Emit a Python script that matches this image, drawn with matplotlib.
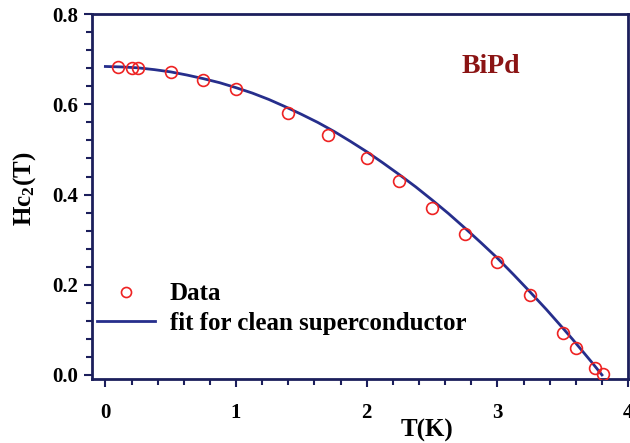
import matplotlib
matplotlib.use("Agg")
import matplotlib.pyplot as plt
from matplotlib.ticker import MultipleLocator

# Data
T_data = [0.10, 0.20, 0.25, 0.50, 0.75, 1.00, 1.40, 1.70, 2.00, 2.25, 2.50,
          2.75, 3.00, 3.25, 3.50, 3.60, 3.75, 3.81]
Hc2_data = [0.682, 0.681, 0.681, 0.671, 0.655, 0.635, 0.581, 0.531, 0.482,
            0.430, 0.371, 0.312, 0.251, 0.177, 0.092, 0.059, 0.016, 0.002]

T_fit = [0.0, 0.125, 0.25, 0.375, 0.5, 0.625, 0.75, 0.875, 1.0, 1.125, 1.25,
         1.375, 1.5, 1.625, 1.75, 1.875, 2.0, 2.125, 2.25, 2.375, 2.5, 2.625,
         2.75, 2.875, 3.0, 3.125, 3.25, 3.375, 3.5, 3.575, 3.65, 3.725, 3.8]
Hc2_fit = [0.684, 0.683, 0.681, 0.677, 0.672, 0.665, 0.657, 0.648, 0.637,
           0.625, 0.611, 0.595, 0.578, 0.560, 0.540, 0.518, 0.495, 0.470,
           0.444, 0.417, 0.388, 0.358, 0.326, 0.293, 0.259, 0.222, 0.184,
           0.145, 0.104, 0.079, 0.053, 0.027, 0.000]

x_ticks = [0, 1, 2, 3, 4]
y_ticks = [0.0, 0.2, 0.4, 0.6, 0.8]
y_ticklabels = ["0.0", "0.2", "0.4", "0.6", "0.8"]

plt.rcParams['font.family'] = ['Liberation Serif', 'DejaVu Serif']
plt.rcParams['font.weight'] = 'bold'
plt.rcParams['mathtext.fontset'] = 'custom'
plt.rcParams['mathtext.rm'] = 'Liberation Serif:bold'
plt.rcParams['mathtext.it'] = 'Liberation Serif:bold'
plt.rcParams['mathtext.bf'] = 'Liberation Serif:bold'

spine_col = '#1c1f5c'
line_col = '#262e8c'
red = '#ee2222'

fig = plt.figure(figsize=(6.3, 4.43), dpi=100)
ax = fig.add_axes([0.1465, 0.1445, 0.8505, 0.8235])

ax.plot(T_data, Hc2_data, 'o', mfc='none', mec=red, mew=1.2, ms=8.5,
        label='Data', zorder=3)
ax.plot(T_fit, Hc2_fit, '-', color=line_col, lw=2.0,
        label='fit for clean superconductor', zorder=2)

ax.set_xlim(-0.10, 3.995)
ax.set_ylim(-0.009, 0.8)

ax.set_xticks(x_ticks)
ax.set_yticks(y_ticks)
ax.set_yticklabels(y_ticklabels)
ax.xaxis.set_minor_locator(MultipleLocator(0.2))
ax.yaxis.set_minor_locator(MultipleLocator(0.04))

for s in ax.spines.values():
    s.set_color(spine_col)
    s.set_linewidth(2.0)

ax.tick_params(which='major', direction='out', length=6, width=1.5,
               color=spine_col, labelsize=15, pad=11)
ax.tick_params(which='minor', direction='out', length=4, width=1.5,
               color=spine_col)
ax.tick_params(axis='y', which='major', pad=4)
for lab in ax.get_xticklabels() + ax.get_yticklabels():
    lab.set_fontweight('bold')

fig.text(427 / 630, 1 - 430 / 443, 'T(K)', fontsize=18, fontweight='bold',
         ha='center', va='center')
ax.set_ylabel(r'Hc$_2$(T)', fontsize=18, fontweight='bold')
ax.yaxis.set_label_coords(-0.101, 0.52)

ax.text(2.95, 0.685, 'BiPd', color='#8b1414', fontsize=20,
        fontweight='bold', ha='center', va='center')

leg = ax.legend(loc='lower left', bbox_to_anchor=(-0.033, 0.06), frameon=False,
                prop={'size': 18, 'weight': 'bold'}, handlelength=2.3,
                handletextpad=0.6, labelspacing=0.25, markerscale=0.85)

fig.savefig('out.png', dpi=100)
